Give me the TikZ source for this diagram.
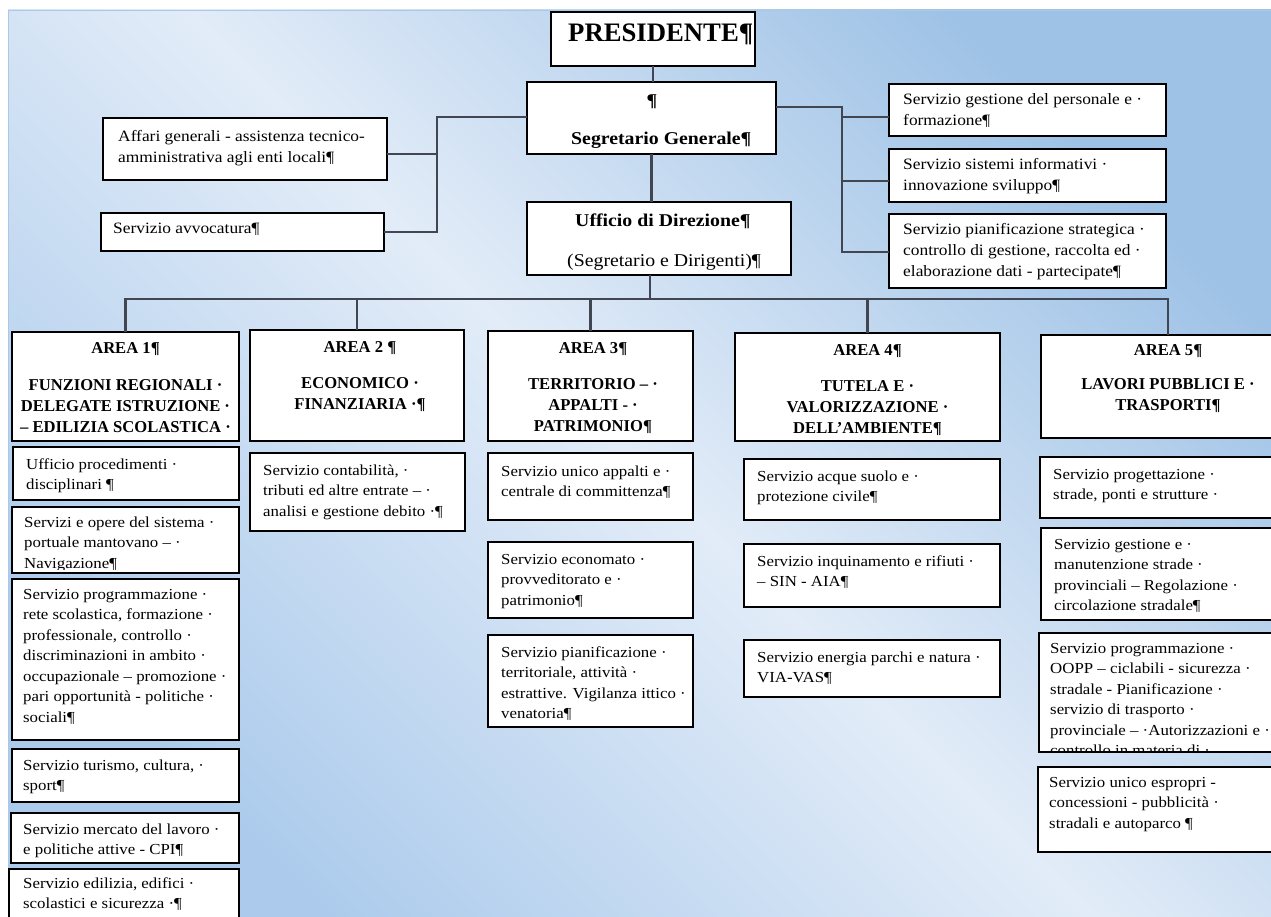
\documentclass[tikz,border=0pt]{standalone}
\usepackage{fontspec}
\setmainfont{Liberation Serif}[FakeStretch=1.1]
\newfontfamily\hfont{Liberation Serif}
\usetikzlibrary{calc}
\definecolor{bgA}{RGB}{158,194,230}
\definecolor{bgB}{RGB}{226,236,248}
\definecolor{bgC}{RGB}{172,203,236}
\definecolor{bgEdge}{RGB}{170,200,232}
\definecolor{connc}{RGB}{65,70,80}
\tikzset{
 obox/.style={draw=black, line width=1.4pt, fill=white, inner sep=0pt, outer sep=0pt, anchor=north west},
 conn/.style={draw=connc, line width=2.2pt},
 stxt/.style={inner sep=0pt, anchor=base west, font=\fontsize{15.3}{20.5}\selectfont},
 ttxt/.style={inner sep=0pt, anchor=base west, font=\fontsize{15.8}{21}\selectfont},
 htxt/.style={inner sep=0pt, anchor=base, font=\hfont\bfseries\fontsize{16.6}{21}\selectfont},
 btxt/.style={inner sep=0pt, font=\bfseries\fontsize{18}{20}\selectfont},
 rtxt/.style={inner sep=0pt, font=\fontsize{18}{20}\selectfont},
}
\newcommand{\obx}[5]{\pgfmathsetmacro{\bw}{#4-#2}\pgfmathsetmacro{\bh}{#5-#3}\node[obox, minimum width=\bw pt, minimum height=\bh pt] (#1) at (#2,#3) {};}
\newcommand{\ltx}[5]{\node[#1] (#2) at (#3,#4) {\parbox[t]{320pt}{\raggedright #5}};}
\newcommand{\ctx}[4]{\node[htxt] (#1) at (#2,#3) {\parbox[t]{300pt}{\centering #4}};}
\begin{document}
\begin{tikzpicture}[x=1pt,y=-1pt]
\useasboundingbox (0,0) rectangle (1271,917);
\fill[white] (0,0) rectangle (1271,917);
\shade[top color=bgA, bottom color=bgC, middle color=bgB, shading angle=-45] (8,10) rectangle (1271,917);
\draw[line width=1pt, bgEdge] (8.5,917) -- (8.5,10.5) -- (1271,10.5);

% top boxes
\obx{pres}{551}{12}{755}{66}
\obx{seg}{527}{82}{776}{154}
\obx{uff}{527}{202}{791}{275}
\obx{aff}{103}{118}{387}{180}
\obx{avv}{101}{213}{384}{251}
\obx{ges}{889}{84}{1166}{136}
\obx{sis}{889}{149}{1166}{202}
\obx{pia}{889}{214}{1166}{288}
% areas
\obx{a1}{12}{332}{239}{441}
\obx{a2}{250}{330}{464}{441}
\obx{a3}{488}{331}{693}{441}
\obx{a4}{735}{333}{1000}{441}
\obx{a5}{1041}{335}{1295}{438}
% services
\obx{s11}{13}{447}{239}{500}
\obx{s12}{12}{507}{239}{573}
\obx{s13}{12}{579}{239}{740}
\obx{s14}{12}{749}{239}{802}
\obx{s15}{11}{813}{239}{863}
\obx{s16}{9}{869}{239}{930}
\obx{s21}{250}{453}{465}{531}
\obx{s31}{488}{453}{693}{520}
\obx{s32}{488}{542}{693}{618}
\obx{s33}{488}{635}{693}{727}
\obx{s41}{744}{459}{1000}{520}
\obx{s42}{744}{544}{1000}{607}
\obx{s43}{744}{640}{1000}{697}
\obx{s51}{1040}{457}{1295}{518}
\obx{s52}{1041}{528}{1295}{620}
\obx{s53}{1039}{633}{1295}{752}
\obx{s54}{1038}{767}{1295}{852}

% connectors
\draw[conn] (pres.south) -- (pres.south |- seg.north);
\draw[conn] (seg.south) -- (seg.south |- uff.north);
\coordinate (bus) at (650,299);
\draw[conn] (bus |- uff.south) -- (bus);
\draw[conn] (a1.north) -- (a1.north |- bus) -- (a5.north |- bus) -- (a5.north);
\draw[conn] (a2.north |- bus) -- (a2.north);
\draw[conn] (a3.north |- bus) -- (a3.north);
\draw[conn] (a4.north |- bus) -- (a4.north);
\coordinate (lj) at (437,117);
\coordinate (la) at (437,154);
\draw[conn] (seg.west |- lj) -- (lj) -- (lj |- avv.east) -- (avv.east);
\draw[conn] (la) -- (la -| aff.east);
\coordinate (rj) at (842,107);
\coordinate (r1) at (842,117);
\coordinate (r2) at (842,181);
\coordinate (r3) at (842,252);
\draw[conn] (rj -| seg.east) -- (rj) -- (r3) -- (r3 -| pia.west);
\draw[conn] (r1) -- (r1 -| ges.west);
\draw[conn] (r2) -- (r2 -| sis.west);

% texts top
\node[inner sep=0pt, anchor=base west, font=\hfont\bfseries\fontsize{26.7}{30}\selectfont] (pres-t) at (568,42) {PRESIDENTE¶};
\node[btxt, anchor=base] (seg-p) at (652,107) {¶};
\node[btxt, anchor=base west] (seg-t) at (571,145) {Segretario Generale¶};
\node[btxt, anchor=base west] (uff-t) at (575,227) {Ufficio di Direzione¶};
\node[rtxt, anchor=base west] (uff-s) at (567,267) {(Segretario e Dirigenti)¶};
\ltx{ttxt}{aff-t}{118}{141.5}{Affari generali - assistenza tecnico-\\amministrativa agli enti locali¶}
\ltx{ttxt}{avv-t}{113}{234}{Servizio avvocatura¶}
\ltx{ttxt}{ges-t}{903}{105}{Servizio gestione del personale e ·\\formazione¶}
\ltx{ttxt}{sis-t}{903}{170}{Servizio sistemi informativi ·\\innovazione sviluppo¶}
\ltx{ttxt}{pia-t}{903}{235}{Servizio pianificazione strategica ·\\controllo di gestione, raccolta ed ·\\elaborazione dati - partecipate¶}

% area headings
\ctx{a1-t}{125.5}{353}{AREA 1¶\\[16pt]FUNZIONI REGIONALI ·\\DELEGATE ISTRUZIONE ·\\– EDILIZIA SCOLASTICA ·}
\ctx{a2-t}{360}{352}{AREA 2 ¶\\[15pt]ECONOMICO ·\\FINANZIARIA ·¶}
\ctx{a3-t}{593}{353}{AREA 3¶\\[15pt]TERRITORIO – ·\\APPALTI - ·\\PATRIMONIO¶}
\ctx{a4-t}{867.5}{355}{AREA 4¶\\[15pt]TUTELA E ·\\VALORIZZAZIONE ·\\DELL’AMBIENTE¶}
\ctx{a5-t}{1168}{355}{AREA 5¶\\[13pt]LAVORI PUBBLICI E ·\\TRASPORTI¶}

% services text
\ltx{stxt}{s11-t}{26}{469}{Ufficio procedimenti ·\\disciplinari ¶}
\begin{scope}
\clip (13,508) rectangle (238,569);
\ltx{stxt}{s12-t}{24}{527}{Servizi e opere del sistema ·\\portuale mantovano – ·\\Navigazione¶}
\end{scope}
\ltx{stxt}{s13-t}{23}{599}{Servizio programmazione ·\\rete scolastica, formazione ·\\professionale, controllo ·\\discriminazioni in ambito ·\\occupazionale – promozione ·\\pari opportunità - politiche ·\\sociali¶}
\ltx{stxt}{s14-t}{23}{770}{Servizio turismo, cultura, ·\\sport¶}
\ltx{stxt}{s15-t}{23}{834}{Servizio mercato del lavoro ·\\e politiche attive - CPI¶}
\ltx{stxt}{s16-t}{23}{888}{Servizio edilizia, edifici ·\\scolastici e sicurezza ·¶}
\ltx{stxt}{s21-t}{263}{475}{Servizio contabilità, ·\\tributi ed altre entrate – ·\\analisi e gestione debito ·¶}
\ltx{stxt}{s31-t}{501}{476}{Servizio unico appalti e ·\\centrale di committenza¶}
\ltx{stxt}{s32-t}{501}{564}{Servizio economato ·\\provveditorato e ·\\patrimonio¶}
\ltx{stxt}{s33-t}{501}{657}{Servizio pianificazione ·\\territoriale, attività ·\\estrattive. Vigilanza ittico ·\\venatoria¶}
\ltx{stxt}{s41-t}{757}{481}{Servizio acque suolo e ·\\protezione civile¶}
\ltx{stxt}{s42-t}{757}{566}{Servizio inquinamento e rifiuti ·\\– SIN - AIA¶}
\ltx{stxt}{s43-t}{757}{662}{Servizio energia parchi e natura ·\\VIA-VAS¶}
\ltx{stxt}{s51-t}{1053}{479}{Servizio progettazione ·\\strade, ponti e strutture ·}
\ltx{stxt}{s52-t}{1054}{549}{Servizio gestione e ·\\manutenzione strade ·\\provinciali – Regolazione ·\\circolazione stradale¶}
\begin{scope}
\clip (1040,634) rectangle (1294,750);
\ltx{stxt}{s53-t}{1050}{653}{Servizio programmazione ·\\OOPP – ciclabili - sicurezza ·\\stradale - Pianificazione ·\\servizio di trasporto ·\\provinciale – ·Autorizzazioni e ·\\controllo in materia di ·}
\end{scope}
\ltx{stxt}{s54-t}{1049}{787}{Servizio unico espropri -\\concessioni - pubblicità ·\\stradali e autoparco ¶}
\end{tikzpicture}
\end{document}
